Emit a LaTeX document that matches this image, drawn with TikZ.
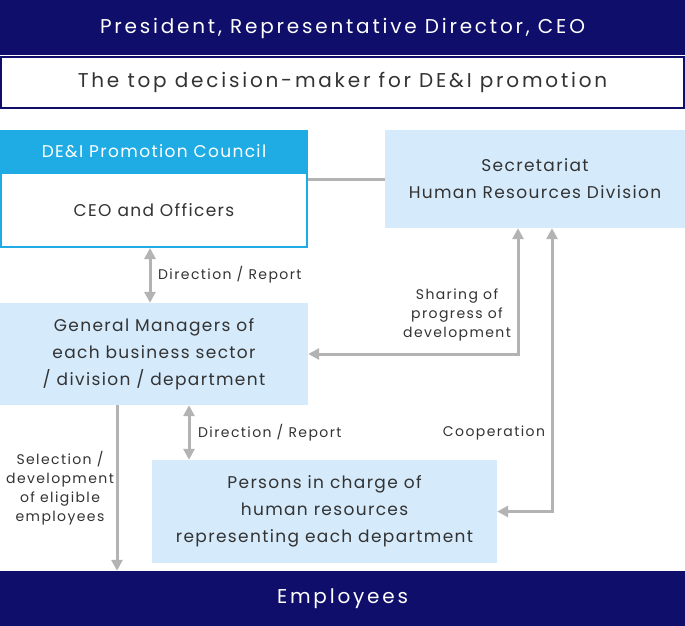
\documentclass[tikz,border=0pt]{standalone}
\usepackage{fontspec}
\setmainfont{Poppins}[LetterSpace=8]
\newfontfamily\widefont{Poppins}[LetterSpace=14]
\newfontfamily\notefont{Poppins}[LetterSpace=10]
\usetikzlibrary{arrows.meta}
\definecolor{navy}{HTML}{0F0E6A}
\definecolor{council}{HTML}{1FACE4}
\definecolor{pale}{HTML}{D5EAFB}
\definecolor{arrowgray}{HTML}{B3B3B3}
\definecolor{ink}{HTML}{333333}
\begin{document}
\begin{tikzpicture}[x=1pt, y=-1pt,
    band/.style={fill=navy, text=white, inner sep=0pt, font=\widefont\fontsize{20}{24}\selectfont},
    palebox/.style={fill=pale, text=ink, inner sep=0pt, align=center, font=\fontsize{17}{27}\selectfont},
    note/.style={text=ink, inner sep=0pt, align=center, font=\notefont\fontsize{14}{19}\selectfont},
    link/.style={draw=arrowgray, line width=3pt},
    twoway/.style={link, {Triangle[width=11pt,length=11pt]}-{Triangle[width=11pt,length=11pt]}},
    oneway/.style={link, -{Triangle[width=11pt,length=11pt]}}]
    \useasboundingbox (0,0) rectangle (685,626);
    % top of the organisation
    \node[draw=navy, line width=2pt, fill=white, text=ink, inner sep=0pt, minimum width=683pt, minimum height=51pt,
        font=\widefont\fontsize{20}{24}\selectfont] (role) at (342.5,82.5) {The top decision-maker for DE\&I promotion};
    \node[band, minimum width=685pt, minimum height=55pt] (ceo) at (342.5,28) {President, Representative Director, CEO};
    % council
    \node[fill=council, text=white, inner sep=0pt, minimum width=308pt, minimum height=42pt,
        font=\fontsize{17}{20}\selectfont] (head) at (154,151) {DE\&I Promotion Council};
    \node[draw=council, line width=2pt, fill=white, text=ink, inner sep=0pt, minimum width=306pt, minimum height=74pt,
        font=\fontsize{17}{20}\selectfont] (body) at (154,210) {CEO and Officers};
    \node[palebox, minimum width=300pt, minimum height=98pt] (sec) at (535,179) {Secretariat\\Human Resources Division};
    % managers and persons in charge
    \node[palebox, minimum width=308pt, minimum height=102pt] (gm) at (154,354) {General Managers of\\each business sector\\/ division / department};
    \node[palebox, minimum width=345pt, minimum height=103pt] (hr) at (324.5,511.5) {Persons in charge of\\human resources\\representing each department};
    \node[band, minimum width=685pt, minimum height=55pt] (emp) at (342.5,598.5) {Employees};
    % connectors
    \draw[link] (sec.west) -- (sec.west -| body.east);
    \draw[twoway] ([xshift=-4pt]body.south) -- ([xshift=-4pt]gm.north);
    \draw[twoway] ([xshift=-17pt]sec.south) |- (gm.east);
    \draw[twoway] ([xshift=17pt]sec.south) |- (hr.east);
    \coordinate (down) at ([xshift=35pt]gm.south);
    \draw[twoway] (down) -- (down |- hr.north);
    \coordinate (select) at ([xshift=-37pt]gm.south);
    \draw[oneway] (select) -- (select |- emp.north);
    % labels
    \node[note, anchor=west] (lab1) at (158,275) {Direction / Report};
    \node[note, anchor=west] (lab2) at (198,433) {Direction / Report};
    \node[note] (share) at (457,314.5) {Sharing of\\progress of\\development};
    \node[note] (coop) at (494,433) {Cooperation};
    \node[note] (sel) at (60,488.5) {Selection /\\development\\of eligible\\employees};
\end{tikzpicture}
\end{document}
